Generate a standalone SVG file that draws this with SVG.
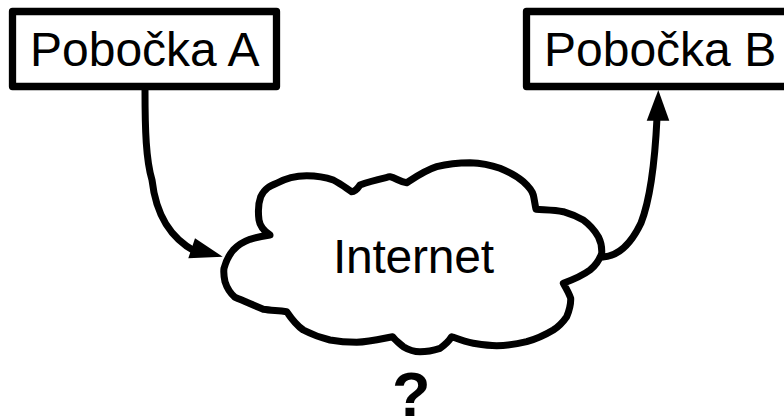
<svg xmlns="http://www.w3.org/2000/svg" width="784" height="416" viewBox="0 0 784 416">
<style>
.s{fill:none;stroke:#000;stroke-width:7;stroke-linejoin:round;stroke-linecap:round}
.b{fill:#fff;stroke:#000;stroke-width:7.3;stroke-linejoin:round}
.t{font-family:"Liberation Sans",Arial,sans-serif;font-size:48px;fill:#000}
</style>
<rect width="784" height="416" fill="#fff"/>
<g id="connectors">
<path class="s" d="M145 90C145 130 146 160 152 180C156 215 170 238 196 252"/>
<polygon points="222.7,256.7 195,238.3 188.3,258.3"/>
<path class="s" d="M603 257C618 256 630 246 641 223C650 200 655 160 657 118"/>
<polygon points="658.3,90 646.7,120.7 669.3,120.7"/>
</g>
<g id="pobocka-a">
<rect class="b" x="12.5" y="11.5" width="264" height="75"/>
<text class="t" x="30" y="66">Pobočka A</text>
</g>
<g id="pobocka-b">
<rect class="b" x="526.5" y="11.5" width="270" height="75"/>
<text class="t" x="544" y="66">Pobočka B</text>
</g>
<g id="internet">
<path class="s" d="M270 235C264 231 260 227 259 220C258 212 258 204 260.7 196.7C265 188 270 186 276.7 183.3C286 178 296 175.7 306.7 175.7C316 175.7 325 177 333.3 180C341 184 346 188 351.7 191.7C355 191.7 358 188 360 185C370 181 380 179 390 176.7C396 178 400 182 406.7 182.7C417 176 426 170 436.7 166.7C447 164 458 162.7 470 162.7C481 163 491 165 500 168.3C509 172 517 176 523.3 181.7C528 186 532 190 533.3 195C534.5 200 535 205 536 209.3C546 210 555 210 563.3 211.7C571 214 578 217 583.3 220C590 225 595 231 598.3 236.7C601 242 602 248 601.7 253.3C599 261 595 266 590 270C582 276 572 280 563.3 283.3C566 288 569 293 570.7 298.3C571 305 569 311 566.7 316.7C563 322 558 327 553.3 330C545 335 536 339 526.7 341.7C517 344 507 345.7 496.7 345.7C488 345.7 481 344.5 473.3 343.3C466 342 458 339 451.7 336.7C449 341 445 345 440 348.3C433 350.5 427 351.7 420 351.7C414 351.7 408 349.5 403.3 346.7C399 343 395 340 392.7 336.7C381 339 369 342 356.7 342.3C347 342.3 338 341.5 330 340C320 337.5 311 334 303.3 330C296 325 291 318 286.7 311.7C278 310.5 271 310.5 263.3 309.3C253 305 244 301 235 297.3C230 293 227 288 225 281.7C224 277 223.5 272 224 268.3C226 261 229 255 233.3 250C238 245 244 241.5 250 239.3C256 237.5 263 236 270 235Z"/>
<text class="t" x="333" y="273" textLength="161">Internet</text>
</g>
<g id="question">
<text x="392" y="416" style="font-family:'Liberation Sans',Arial,sans-serif;font-size:63px;font-weight:bold">?</text>
</g>
</svg>
